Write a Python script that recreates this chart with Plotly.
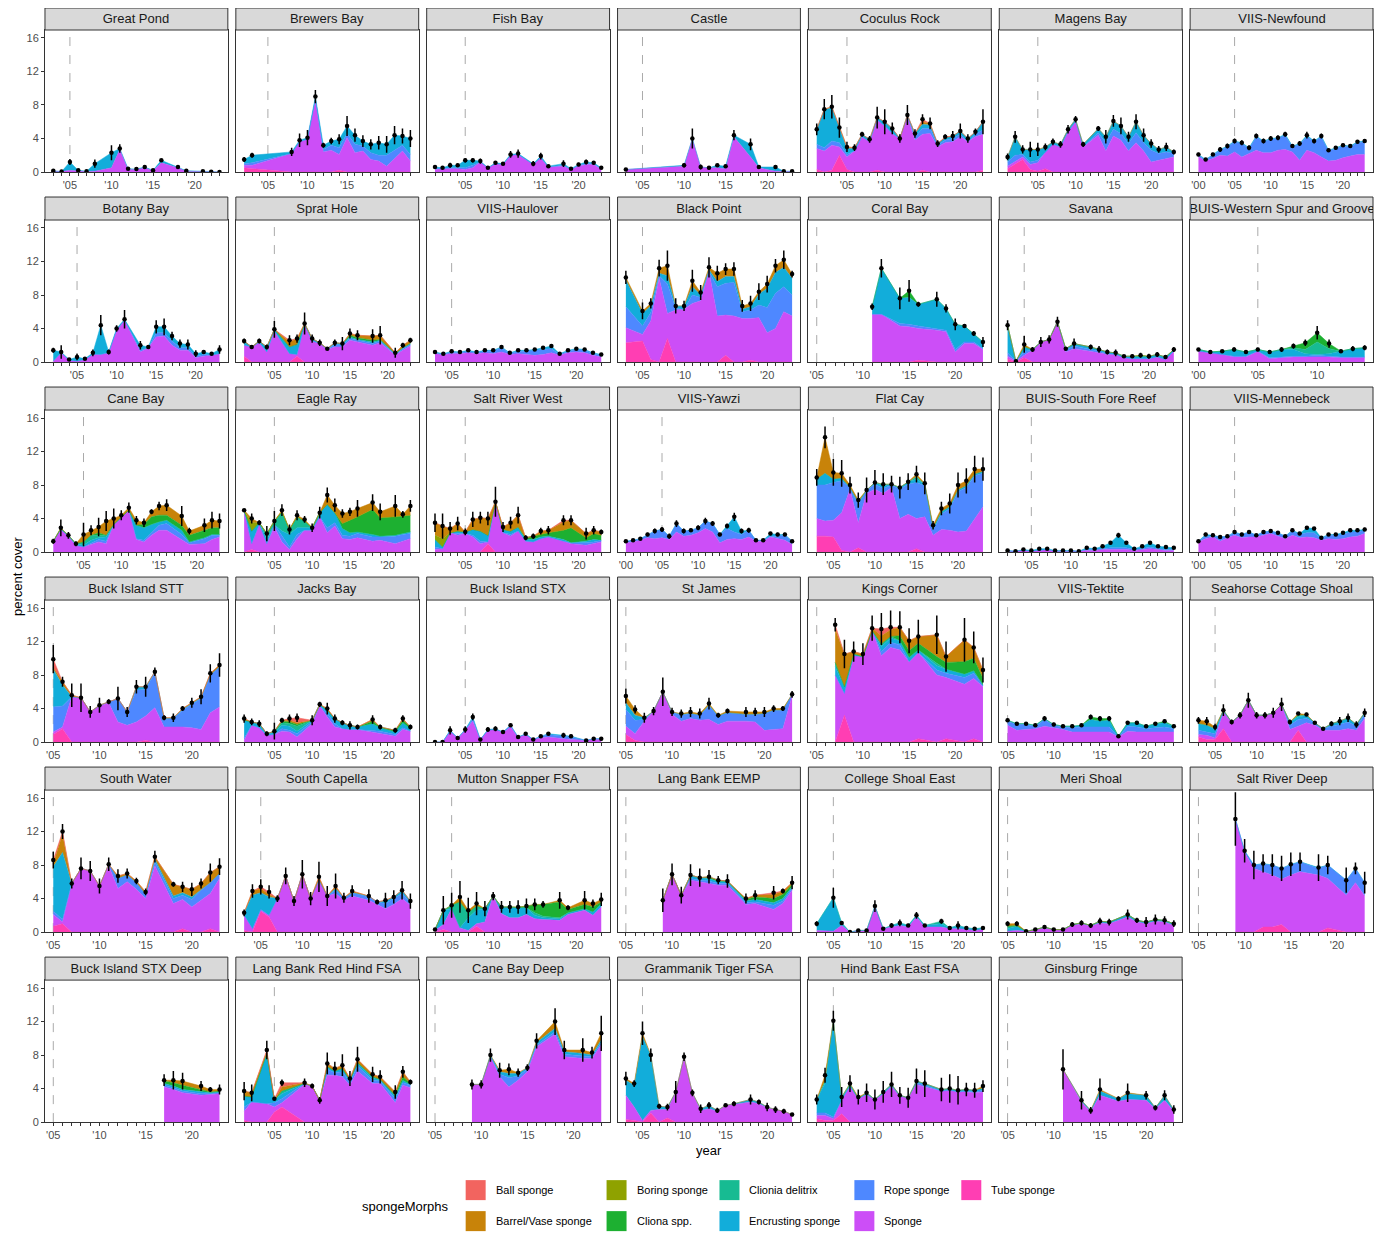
import plotly.graph_objects as go

# page body keeps the browser's 8px margin, so the figure is laid out in page pixels minus that
OFF = 8
W, H = 1382 - 2 * OFF, 1247 - 2 * OFF
KY = 1.005  # small vertical stretch so the lower rows land where the reference has them
FONT = "Liberation Sans, Arial, sans-serif"


def fx(px):
    return (px - OFF) / W


def fy(py):
    return 1 - (py - OFF) * KY / H


# morph colours (ggplot-ish hue palette as it looks in the picture)
colors = {"Ball sponge": "#F2645F", "Barrel/Vase sponge": "#C88309", "Boring sponge": "#8FA200",
          "Cliona spp.": "#1DB031", "Clionia delitrix": "#17BB92", "Encrusting sponge": "#12ADDA",
          "Rope sponge": "#4E88FF", "Sponge": "#CC4EF7", "Tube sponge": "#FF3EB3"}
# short keys, bottom of the stack first
stack = [("tb", "Tube sponge"), ("sp", "Sponge"), ("rp", "Rope sponge"), ("en", "Encrusting sponge"),
         ("dl", "Clionia delitrix"), ("cl", "Cliona spp."), ("bo", "Boring sponge"),
         ("bv", "Barrel/Vase sponge"), ("ba", "Ball sponge")]

# ---------------- data (percent cover by year) ----------------
# Great Pond
gp_yr = [2003, 2004, 2005, 2006, 2007, 2008, 2010, 2011, 2012, 2013, 2014, 2015, 2016, 2018, 2019, 2021, 2022, 2023]
gp_sp = [0.1, 0.05, 0.2, 0.15, 0.05, 0.1, 0.5, 2.7, 0.3, 0.3, 0.5, 0.15, 1.1, 0.5, 0.1, 0.05, 0.03, 0.0]
gp_en = [0.05, 0.0, 1.0, 0.05, 0.05, 0.9, 1.8, 0.1, 0.1, 0.05, 0.1, 0.05, 0.3, 0.1, 0.05, 0.05, 0.0, 0.0]
gp_se = [0.1, 0.05, 0.35, 0.15, 0.1, 0.5, 0.9, 0.5, 0.1, 0.15, 0.1, 0.1, 0.15, 0.15, 0.1, 0.1, 0.05, 0.03]
# Brewers Bay
bb_yr = [2002, 2003, 2008, 2009, 2010, 2011, 2012, 2013, 2014, 2015, 2016, 2017, 2018, 2019, 2020, 2021, 2022, 2023]
bb_tb = [0.5, 0.4, 0, 0, 0, 0, 0, 0, 0.2, 0, 0, 0, 0, 0, 0, 0, 0, 0]
bb_sp = [0.3, 0.4, 2.2, 3.6, 3.9, 8.6, 2.4, 2.6, 1.9, 4.1, 2.3, 2.5, 1.5, 1.3, 0.7, 1.6, 2.5, 1.3]
bb_rp = [0.2, 0.3, 0, 0, 0, 0, 0.3, 0.6, 0.8, 0.5, 1.0, 0.6, 0.8, 0.7, 1.3, 1.0, 0.7, 0.8]
bb_en = [0.5, 0.9, 0.2, 0.2, 0.2, 0.4, 0.5, 0.5, 1.0, 0.9, 1.1, 0.6, 1.0, 1.5, 1.3, 1.8, 1.1, 1.9]
bb_se = [0.3, 0.3, 0.5, 0.8, 0.9, 0.8, 0.3, 0.4, 0.6, 1.2, 0.8, 0.7, 0.6, 0.8, 1.0, 1.1, 0.9, 1.0]
# Fish Bay
fb_yr = [2001, 2002, 2003, 2004, 2005, 2006, 2007, 2008, 2009, 2010, 2011, 2012, 2014, 2015, 2016, 2018, 2019, 2020, 2021, 2022, 2023]
fb_sp = [0.3, 0.4, 0.4, 0.4, 0.3, 0.5, 1.2, 0.5, 1.0, 0.9, 2.0, 2.1, 0.9, 1.7, 0.6, 0.7, 0.3, 0.7, 0.9, 0.9, 0.3]
fb_rp = [0.1, 0, 0.1, 0.1, 0.2, 0.3, 0, 0, 0, 0, 0, 0, 0, 0, 0, 0.1, 0, 0.1, 0.1, 0.1, 0.1]
fb_en = [0.2, 0.1, 0.3, 0.3, 0.9, 0.6, 0.1, 0, 0.1, 0.1, 0.1, 0.1, 0.1, 0.2, 0.1, 0.2, 0.1, 0.1, 0.2, 0.1, 0.1]
fb_se = [0.15, 0.15, 0.3, 0.2, 0.25, 0.25, 0.3, 0.1, 0.2, 0.2, 0.4, 0.5, 0.3, 0.4, 0.1, 0.4, 0.1, 0.2, 0.3, 0.2, 0.15]
# Castle
ca_yr = [2003, 2010, 2011, 2012, 2013, 2014, 2015, 2016, 2018, 2019, 2021, 2022, 2023]
ca_sp = [0.3, 0.7, 3.9, 0.6, 0.5, 0.5, 0.4, 4.2, 1.8, 0.5, 0.1, 0.05, 0.05]
ca_en = [0, 0.1, 0.1, 0, 0, 0.3, 0.3, 0.2, 1.5, 0.1, 0.5, 0.05, 0.05]
ca_se = [0.05, 0.25, 1.2, 0.3, 0.2, 0.15, 0.1, 0.6, 0.7, 0.1, 0.15, 0.05, 0.05]
# Coculus Rock
cr_yr = [2001, 2002, 2003, 2004, 2005, 2006, 2007, 2008, 2009, 2010, 2011, 2012, 2013, 2014, 2015, 2016, 2017, 2018, 2019, 2020, 2021, 2022, 2023]
cr_tb = [0.3, 0, 0.2, 2.0, 0.3, 0, 0, 0, 0.2, 0, 0, 0, 0, 0, 0.2, 0, 0, 0, 0, 0, 0, 0, 0.2]
cr_sp = [2.5, 2.5, 3.0, 1.0, 1.5, 2.5, 4.2, 3.6, 6.0, 5.5, 4.6, 4.0, 6.6, 3.8, 4.3, 4.6, 3.0, 3.5, 3.6, 4.2, 3.6, 4.2, 4.3]
cr_rp = [0.5, 0.4, 0.5, 0.5, 0.3, 0, 0, 0, 0, 0, 0, 0, 0, 0.4, 0.7, 0.6, 0.2, 0.3, 0.4, 0.3, 0, 0.3, 0.5]
cr_en = [1.8, 4.5, 4.0, 1.8, 0.7, 0.3, 0.3, 0.3, 0.3, 0.5, 0.6, 0, 0.2, 0.4, 0.5, 0.4, 0.2, 0.3, 0.3, 0.4, 0.4, 0.3, 1.0]
cr_bv = [0, 0.1, 0.1, 0, 0.2, 0.1, 0, 0, 0, 0, 0, 0, 0, 0, 0.3, 0.2, 0, 0, 0, 0, 0, 0, 0]
cr_ba = [0, 0, 0, 0, 0, 0, 0, 0, 0, 0, 0, 0, 0, 0, 0.3, 0, 0, 0.1, 0, 0, 0, 0, 0]
cr_se = [0.7, 1.2, 1.4, 1.2, 0.6, 0.4, 0.3, 0.4, 1.3, 1.5, 0.7, 0.5, 1.2, 0.5, 0.6, 0.7, 0.4, 0.3, 0.6, 0.9, 0.5, 0.4, 1.5]
# Magens Bay
mb_yr = [2001, 2002, 2003, 2004, 2005, 2006, 2007, 2008, 2009, 2010, 2011, 2013, 2014, 2015, 2016, 2017, 2018, 2019, 2020, 2021, 2022, 2023]
mb_tb = [0.4, 0.9, 1.5, 0.3, 0.1, 0.4, 0, 0, 0, 0, 0, 0, 0, 0, 0, 0, 0, 0, 0, 0, 0, 0]
mb_sp = [0.3, 0.3, 0.3, 0.6, 1.0, 2.0, 3.3, 3.0, 4.8, 6.0, 3.0, 4.4, 2.5, 4.3, 3.8, 2.5, 3.5, 2.5, 1.2, 1.4, 1.6, 1.8]
mb_rp = [0.5, 0.8, 0.3, 0.3, 0.3, 0, 0, 0, 0, 0, 0, 0.3, 1.0, 0.8, 0.8, 0.9, 1.2, 1.0, 1.4, 0.8, 0.8, 0.4]
mb_en = [0.6, 2.2, 0.6, 1.5, 1.2, 0.6, 0.3, 0.3, 0.3, 0.3, 0.3, 0.5, 0.7, 1.0, 0.9, 0.8, 1.3, 0.9, 0.8, 0.5, 0.6, 0.2]
mb_bv = [0, 0, 0, 0, 0.1, 0, 0, 0, 0, 0, 0, 0, 0, 0, 0, 0, 0, 0, 0, 0, 0, 0]
mb_se = [0.4, 0.7, 0.5, 0.9, 0.8, 0.4, 0.4, 0.4, 0.5, 0.4, 0.3, 0.3, 0.8, 0.7, 1.0, 0.6, 0.9, 0.8, 0.5, 0.4, 0.5, 0.3]
# VIIS-Newfound
vn_yr = [2000, 2001, 2002, 2003, 2004, 2005, 2006, 2007, 2008, 2009, 2010, 2011, 2012, 2013, 2014, 2015, 2016, 2017, 2018, 2019, 2020, 2021, 2022, 2023]
vn_sp = [1.8, 1.3, 1.6, 2.0, 1.9, 2.4, 1.8, 2.2, 2.6, 2.3, 2.3, 2.6, 2.7, 2.4, 1.4, 2.6, 2.3, 1.8, 1.3, 1.4, 1.7, 1.9, 2.1, 2.1]
vn_rp = [0.2, 0.1, 0.4, 0.6, 1.1, 1.2, 1.6, 0.6, 1.6, 1.3, 1.6, 1.4, 1.7, 0.6, 1.9, 1.6, 1.3, 2.4, 1.2, 1.4, 1.4, 1.1, 1.4, 1.5]
vn_en = [0.1, 0.1, 0.1, 0.1, 0.1, 0.1, 0.1, 0.1, 0.1, 0.1, 0.1, 0.1, 0.1, 0.1, 0.1, 0.2, 0.1, 0.1, 0.1, 0.1, 0.1, 0.1, 0.1, 0.1]
vn_se = [0.2, 0.15, 0.2, 0.3, 0.3, 0.3, 0.3, 0.3, 0.3, 0.3, 0.3, 0.3, 0.3, 0.2, 0.3, 0.4, 0.3, 0.3, 0.2, 0.2, 0.2, 0.2, 0.2, 0.2]
# Botany Bay
bt_yr = [2002, 2003, 2004, 2005, 2006, 2007, 2008, 2009, 2010, 2011, 2013, 2014, 2015, 2016, 2017, 2018, 2019, 2020, 2021, 2022, 2023]
bt_sp = [0.1, 1.1, 0.2, 0.1, 0.3, 0.9, 0.9, 1.1, 3.8, 5.0, 1.2, 1.7, 3.0, 3.1, 2.0, 1.4, 1.4, 0.5, 0.7, 0.8, 1.0]
bt_rp = [0, 0, 0, 0, 0, 0, 0, 0, 0, 0, 0.2, 0, 0.5, 0.4, 0.5, 0.3, 0.3, 0.2, 0.2, 0, 0]
bt_en = [1.3, 0.1, 0.1, 0.5, 0.1, 0.2, 3.5, 0.1, 0.2, 0.1, 0.6, 0.1, 0.7, 0.7, 0.6, 0.5, 0.4, 0.3, 0.3, 0.2, 0.5]
bt_se = [0.3, 0.8, 0.1, 0.4, 0.1, 0.4, 1.2, 0.3, 0.4, 1.1, 0.5, 0.1, 0.8, 1.0, 0.5, 0.5, 0.6, 0.4, 0.2, 0.1, 0.5]
# Sprat Hole
sh_yr = [2001, 2002, 2003, 2004, 2005, 2007, 2008, 2009, 2010, 2011, 2012, 2013, 2014, 2015, 2016, 2018, 2019, 2021, 2022, 2023]
sh_tb = [0.7, 0, 0, 0, 0, 0, 0.7, 0, 0, 0, 0, 0, 0, 0, 0, 0, 0, 0, 0, 0]
sh_sp = [1.3, 1.8, 2.3, 1.2, 3.6, 1.0, 0.2, 4.4, 2.5, 2.2, 1.5, 1.8, 1.8, 2.6, 2.4, 2.0, 2.3, 0.8, 1.4, 1.9]
sh_rp = [0, 0, 0, 0, 0.1, 0, 0, 0, 0, 0, 0, 0.3, 0.2, 0.2, 0.2, 0.2, 0.2, 0.1, 0.2, 0.2]
sh_en = [0.5, 0, 0.2, 0.6, 0.2, 0.8, 1.2, 0.2, 0.3, 0.1, 0.1, 0.2, 0.2, 0.2, 0.1, 0.2, 0.1, 0.1, 0.1, 0.1]
sh_cl = [0, 0, 0, 0, 0, 0, 0, 0, 0, 0, 0, 0, 0, 0.2, 0.2, 0.2, 0.1, 0, 0, 0]
sh_bv = [0, 0, 0, 0, 0, 0.6, 0.7, 0, 0, 0, 0, 0, 0, 0.2, 0.3, 0.5, 0.5, 0.1, 0.3, 0.4]
sh_ba = [0, 0, 0, 0, 0, 0.2, 0, 0, 0, 0, 0, 0, 0, 0, 0, 0, 0, 0, 0, 0]
sh_se = [0.3, 0.1, 0.3, 0.3, 1.0, 0.6, 0.5, 1.3, 0.5, 0.4, 0.1, 0.4, 0.8, 0.6, 0.6, 0.8, 1.1, 0.6, 0.3, 0.3]
# VIIS-Haulover
vh_yr = [2003, 2004, 2005, 2006, 2007, 2008, 2009, 2010, 2011, 2012, 2013, 2014, 2015, 2016, 2017, 2018, 2019, 2020, 2021, 2022, 2023]
vh_sp = [1.0, 0.9, 1.0, 1.0, 1.1, 1.0, 1.1, 1.0, 1.2, 0.9, 1.0, 0.9, 0.8, 0.9, 1.1, 0.8, 1.1, 1.2, 1.1, 0.8, 0.6]
vh_rp = [0.1, 0.0, 0.2, 0.1, 0.2, 0.1, 0.2, 0.3, 0.5, 0.1, 0.3, 0.4, 0.6, 0.6, 0.5, 0.1, 0.2, 0.3, 0.3, 0.2, 0.2]
vh_en = [0.1, 0.1, 0.1, 0.1, 0.1, 0.1, 0.1, 0.1, 0.1, 0.1, 0.1, 0.1, 0.1, 0.2, 0.3, 0.1, 0.1, 0.1, 0.1, 0.1, 0.1]
vh_se = [0.15, 0.1, 0.2, 0.15, 0.2, 0.1, 0.2, 0.2, 0.2, 0.1, 0.1, 0.15, 0.15, 0.15, 0.2, 0.1, 0.15, 0.15, 0.15, 0.1, 0.1]
# Black Point
bp_yr = [2003, 2005, 2006, 2007, 2008, 2009, 2010, 2011, 2012, 2013, 2014, 2015, 2016, 2017, 2018, 2019, 2020, 2021, 2022, 2023]
bp_tb = [2.3, 2.5, 0.3, 0, 2.8, 0, 0, 0, 0, 0, 0, 0.8, 0, 0, 0.2, 0, 0, 0, 0, 0]
bp_sp = [1.8, 0.8, 4.6, 10.0, 3.0, 6.2, 6.3, 7.0, 7.3, 10.8, 5.5, 4.8, 5.5, 5.2, 5.0, 5.3, 3.5, 4.0, 6.0, 5.5]
bp_rp = [2.5, 1.0, 1.0, 0.3, 3.5, 0.2, 0, 1.0, 0.4, 0, 3.5, 3.8, 4.0, 0.8, 1.0, 1.5, 3.0, 4.2, 3.0, 2.5]
bp_en = [3.2, 1.5, 0.8, 0.3, 1.0, 0.3, 0.4, 1.0, 0.3, 0.2, 0.6, 0.8, 0.7, 0.3, 0.4, 1.3, 2.3, 2.5, 2.3, 2.0]
bp_bv = [0.3, 0.3, 0.3, 0.6, 1.2, 0, 0, 0.7, 0.3, 0.3, 1.0, 0.9, 0.9, 0.4, 0.4, 0.3, 0.5, 0.8, 0.9, 0.5]
bp_se = [0.8, 1.0, 0.6, 1.0, 1.8, 0.9, 0.6, 1.3, 0.9, 1.2, 0.9, 0.7, 0.8, 0.7, 0.9, 1.0, 1.0, 0.8, 1.1, 0.4]
# Coral Bay
cy_yr = [2011, 2012, 2014, 2015, 2016, 2018, 2019, 2020, 2021, 2022, 2023]
cy_tb = [0, 0, 0, 0, 0.2, 0, 0, 0, 0, 0, 0]
cy_sp = [5.7, 5.7, 4.3, 4.2, 3.8, 3.8, 3.6, 1.2, 2.2, 2.2, 1.5]
cy_rp = [0, 0, 0.3, 0.3, 0.3, 0.2, 0.2, 0.3, 0.2, 0.2, 0.1]
cy_en = [0.9, 5.5, 3.0, 3.2, 2.6, 3.5, 2.6, 3.0, 1.9, 1.0, 0.8]
cy_cl = [0, 0, 0, 0.8, 0, 0, 0, 0, 0, 0, 0]
cy_se = [0.4, 1.1, 1.3, 1.3, 0.3, 0.9, 0.5, 0.7, 0.2, 0.3, 0.6]
# Savana
sv_yr = [2003, 2004, 2005, 2006, 2007, 2008, 2009, 2010, 2011, 2013, 2014, 2015, 2016, 2017, 2018, 2019, 2020, 2021, 2022, 2023]
sv_tb = [0.4, 0, 0.5, 0, 0, 0, 0, 0, 0, 0, 0, 0, 0, 0, 0, 0, 0, 0, 0, 0]
sv_sp = [0.3, 0.1, 0.3, 1.4, 2.4, 2.7, 4.8, 1.2, 1.6, 1.3, 1.1, 0.9, 0.9, 0.5, 0.4, 0.4, 0.4, 0.6, 0.3, 1.3]
sv_rp = [0.4, 0, 0.5, 0, 0, 0, 0, 0.2, 0.3, 0.2, 0.2, 0.1, 0, 0, 0, 0, 0, 0, 0, 0]
sv_en = [3.3, 0, 0.5, 0.1, 0, 0, 0, 0.2, 0.3, 0.3, 0.2, 0.2, 0.2, 0.2, 0.3, 0.2, 0.3, 0.3, 0.3, 0.2]
sv_cl = [0, 0, 0, 0, 0, 0, 0, 0, 0, 0, 0, 0, 0, 0, 0, 0.2, 0, 0, 0, 0]
sv_bv = [0, 0, 0.3, 0, 0, 0, 0, 0, 0, 0, 0, 0, 0, 0, 0, 0, 0, 0, 0, 0]
sv_se = [0.6, 0.05, 1.0, 0.3, 0.6, 0.5, 0.6, 0.2, 0.6, 0.3, 0.4, 0.3, 0.4, 0.1, 0.2, 0.3, 0.3, 0.3, 0.2, 0.3]
# BUIS-Western Spur and Groove
ws_yr = [2000, 2001, 2002, 2003, 2004, 2005, 2006, 2007, 2008, 2009, 2010, 2011, 2012, 2013, 2014]
ws_sp = [1.3, 1.1, 0.9, 0.6, 0.6, 1.3, 0.4, 0.5, 0.6, 0.6, 0.6, 0.6, 0.5, 0.5, 0.5]
ws_rp = [0, 0, 0, 0.1, 0.1, 0, 0.1, 0.1, 0.1, 0.1, 0.2, 0.1, 0.1, 0.1, 0.1]
ws_en = [0.2, 0.1, 0.4, 0.8, 0.5, 0.2, 0.7, 0.9, 0.8, 0.3, 0.1, 0.3, 0.7, 1.0, 1.1]
ws_dl = [0, 0, 0, 0, 0, 0, 0, 0, 0.2, 0.5, 1.5, 0.6, 0, 0, 0]
ws_cl = [0, 0, 0, 0, 0, 0, 0, 0, 0.2, 0.8, 1.1, 0.6, 0, 0, 0]
ws_se = [0.15, 0.2, 0.15, 0.25, 0.2, 0.2, 0.2, 0.3, 0.3, 0.4, 0.8, 0.5, 0.2, 0.3, 0.3]
# Cane Bay
cn_yr = [2001, 2002, 2003, 2004, 2005, 2006, 2007, 2008, 2009, 2010, 2011, 2012, 2013, 2014, 2015, 2016, 2018, 2019, 2021, 2022, 2023]
cn_sp = [1.3, 2.7, 1.9, 0.8, 0.6, 0.9, 1.2, 1.0, 3.3, 4.1, 5.0, 1.5, 1.2, 2.0, 2.6, 2.6, 1.5, 0.9, 1.0, 1.5, 1.8]
cn_rp = [0, 0, 0, 0, 0, 0.2, 0.3, 0.3, 0, 0, 0, 0.1, 0.2, 0.3, 0.6, 0.8, 0.6, 0.2, 0.6, 0.5, 0.2]
cn_en = [0, 0.1, 0.1, 0.2, 0.2, 0.3, 0.2, 0.5, 0, 0, 0, 1.6, 1.5, 1.0, 0.4, 0.4, 0.5, 0.1, 0.1, 0.1, 0.1]
cn_dl = [0, 0, 0, 0, 0.4, 0.6, 0.3, 0.2, 0, 0, 0, 0, 0, 0, 0, 0, 0, 0, 0, 0, 0]
cn_cl = [0, 0, 0, 0, 0, 0, 0.3, 0, 0, 0, 0, 0, 0.4, 0.9, 0.8, 0.6, 0.6, 0.8, 0.9, 0.8, 0.8]
cn_bv = [0, 0.1, 0, 0, 0.9, 0.6, 0.7, 1.7, 0.7, 0.3, 0.3, 0.6, 0.2, 0.6, 1.1, 1.2, 1.1, 0.5, 0.6, 0.9, 0.8]
cn_se = [0.3, 1.0, 0.4, 0.3, 1.4, 0.6, 1.1, 1.2, 1.2, 0.6, 0.6, 0.5, 0.5, 0.3, 0.5, 0.7, 1.2, 0.4, 0.8, 1.0, 0.9]
# Eagle Ray
er_yr = [2001, 2002, 2003, 2004, 2005, 2006, 2007, 2008, 2009, 2010, 2011, 2012, 2013, 2014, 2015, 2016, 2018, 2019, 2021, 2022, 2023]
er_tb = [0, 0.3, 0, 0, 0, 0, 0, 0, 0, 0, 0, 0, 0, 0, 0, 0, 0, 0, 0, 0, 0]
er_sp = [4.9, 0.7, 3.3, 1.0, 3.0, 1.2, 0.3, 1.6, 2.6, 2.6, 4.2, 2.3, 3.1, 1.6, 1.5, 1.7, 1.3, 1.4, 1.0, 1.3, 1.6]
er_rp = [0, 0, 0, 0, 0.3, 0.8, 0.3, 0.5, 0, 0, 0, 0.6, 0.4, 0.4, 0.4, 0.5, 0.5, 0.4, 0.9, 0.8, 0.6]
er_en = [0, 1.5, 0.2, 0.5, 0, 0.5, 1.5, 0.8, 0.3, 0.3, 0.5, 2.8, 1.2, 0.8, 0.4, 0.2, 0.3, 0.1, 0.1, 0.1, 0.2]
er_dl = [0, 0, 0, 0.7, 0.4, 2.3, 0.6, 1.3, 0.8, 0, 0, 0, 0, 0, 0, 0, 0, 0, 0, 0, 0]
er_cl = [0, 0, 0, 0, 0, 0, 0, 0, 0, 0, 0, 0, 0, 0.6, 1.5, 1.8, 3.0, 2.2, 2.2, 2.1, 2.0]
er_bo = [0, 1.0, 0, 0, 0, 0, 0, 0, 0, 0, 0, 0, 0, 0, 0, 0, 0, 0, 0, 0, 0]
er_bv = [0.1, 0.5, 0, 0, 0, 0.2, 0, 0.2, 0.2, 0, 0, 1.1, 0.9, 1.2, 1.0, 1.0, 0.8, 0.7, 1.3, 0.2, 1.1]
er_se = [0.1, 0.6, 0.3, 0.9, 1.2, 0.7, 0.6, 0.6, 0.4, 0.5, 0.7, 0.9, 0.8, 0.5, 0.5, 1.0, 1.0, 1.0, 1.3, 0.4, 0.7]
# Salt River West
sw_yr = [2001, 2002, 2003, 2004, 2005, 2006, 2007, 2008, 2009, 2010, 2011, 2012, 2013, 2014, 2015, 2016, 2018, 2019, 2021, 2022, 2023]
sw_tb = [0, 0, 0, 0, 0, 0, 0, 1.0, 0, 0, 0, 0, 0, 0, 0, 0, 0, 0, 0, 0, 0]
sw_sp = [0.3, 0.4, 2.3, 2.0, 2.2, 1.8, 1.0, 0.2, 6.0, 2.3, 1.9, 2.5, 1.3, 1.2, 1.6, 1.8, 1.3, 1.0, 0.8, 1.0, 1.2]
sw_rp = [0.3, 0, 0, 0.2, 0, 0.2, 0.3, 0, 0, 0, 0.2, 0, 0, 0, 0, 0, 0, 0.1, 0.3, 0.2, 0.2]
sw_en = [0.9, 0.2, 0, 0.3, 0.2, 0.7, 1.2, 0.8, 0, 0.4, 0.4, 0.5, 0.2, 0.3, 0.2, 0.1, 0.2, 0, 0.2, 0.3, 0]
sw_cl = [0, 0, 0, 0, 0, 0, 0, 0, 0, 0, 0, 0, 0.2, 0.4, 0.3, 0.4, 1.1, 1.8, 0.4, 0.7, 0.6]
sw_bo = [0.5, 1.0, 0, 0, 0, 0, 0, 0, 0, 0, 0, 0, 0, 0, 0, 0, 0, 0, 0, 0, 0]
sw_bv = [1.5, 1.5, 0.5, 0.9, 0, 1.2, 1.6, 2.0, 0, 0.3, 1.0, 1.4, 0, 0, 0.4, 0.3, 1.0, 0.9, 0.5, 0.4, 0.4]
sw_ba = [0, 0, 0, 0, 0, 0, 0, 0, 0, 0, 0, 0, 0, 0, 0, 0, 0.2, 0, 0, 0, 0]
sw_se = [1.1, 1.5, 0.8, 0.8, 0.4, 0.9, 0.7, 0.8, 1.8, 0.6, 0.7, 1.0, 0.3, 0.3, 0.4, 0.5, 0.6, 0.6, 0.7, 0.5, 0.3]
# VIIS-Yawzi
vy_yr = [2000, 2001, 2002, 2003, 2004, 2005, 2006, 2007, 2008, 2009, 2010, 2011, 2012, 2013, 2014, 2015, 2016, 2017, 2018, 2019, 2020, 2021, 2022, 2023]
vy_sp = [1.1, 1.2, 1.4, 1.7, 1.6, 1.7, 1.5, 2.4, 1.9, 2.0, 2.3, 2.8, 2.4, 1.1, 1.5, 1.6, 1.5, 1.8, 1.3, 1.3, 1.8, 1.6, 1.4, 0.9]
vy_rp = [0.2, 0.2, 0.2, 0.4, 0.9, 1.0, 0.4, 1.0, 0.6, 0.6, 0.6, 0.9, 1.0, 1.0, 1.3, 0.8, 0.6, 0.8, 0.1, 0.1, 0.1, 0.3, 0.6, 0.4]
vy_en = [0, 0, 0, 0, 0, 0, 0, 0, 0, 0, 0, 0, 0, 0, 0.3, 1.8, 0.4, 0, 0, 0, 0.3, 0.2, 0.1, 0]
vy_se = [0.1, 0.1, 0.15, 0.2, 0.3, 0.3, 0.3, 0.4, 0.3, 0.2, 0.3, 0.4, 0.3, 0.2, 0.3, 0.5, 0.3, 0.3, 0.15, 0.1, 0.2, 0.2, 0.2, 0.15]
# Flat Cay
fc_yr = [2003, 2004, 2005, 2006, 2007, 2008, 2009, 2010, 2011, 2012, 2013, 2014, 2015, 2016, 2017, 2018, 2019, 2020, 2021, 2022, 2023]
fc_tb = [1.9, 1.9, 1.8, 0.2, 0, 0.5, 0, 0, 0, 0, 0, 0, 0.4, 0, 0, 0, 0, 0, 0, 0, 0]
fc_sp = [2.1, 1.8, 2.0, 4.5, 7.5, 3.0, 7.0, 7.5, 7.0, 7.7, 4.0, 4.5, 3.6, 4.2, 2.0, 2.7, 2.6, 2.4, 2.5, 3.9, 5.4]
fc_rp = [4.0, 4.3, 4.5, 3.8, 0.2, 2.2, 0.4, 0.6, 0.6, 0.3, 3.5, 3.6, 4.3, 3.7, 0.6, 1.8, 2.6, 4.8, 5.2, 5.2, 4.0]
fc_en = [0.7, 1.4, 0.4, 0.3, 0, 0.2, 0, 0.2, 0.3, 0.1, 0.2, 0.3, 0.4, 0.2, 0.2, 0.3, 0.2, 0.2, 0.2, 0.2, 0.2]
fc_dl = [0, 0, 0, 0, 0, 0, 0, 0, 0.2, 0, 0, 0, 0.3, 0, 0, 0, 0, 0, 0, 0, 0]
fc_bv = [0.2, 4.3, 0.8, 0.6, 0.3, 0.3, 0, 0, 0, 0, 0, 0, 0.3, 0.1, 0.4, 0.4, 0.4, 0.6, 0.6, 0.6, 0.3]
fc_se = [1.0, 1.3, 1.6, 1.6, 1.0, 0.9, 1.5, 1.5, 1.3, 1.0, 1.3, 1.0, 1.0, 1.3, 0.5, 0.8, 1.2, 1.5, 1.5, 1.6, 1.4]
# BUIS-South Fore Reef
sf_yr = [2002, 2003, 2004, 2005, 2006, 2007, 2008, 2009, 2010, 2011, 2012, 2013, 2014, 2015, 2016, 2017, 2018, 2019, 2020, 2021, 2022, 2023]
sf_sp = [0.1, 0.1, 0.2, 0.1, 0.2, 0.3, 0.1, 0.1, 0.1, 0.1, 0.2, 0.2, 0.3, 0.3, 0.3, 0.3, 0.2, 0.3, 0.4, 0.3, 0.2, 0.2]
sf_rp = [0, 0, 0, 0, 0, 0, 0, 0, 0, 0, 0.1, 0.1, 0.1, 0.2, 0.2, 0.2, 0.1, 0.1, 0.2, 0.1, 0.1, 0.1]
sf_en = [0.1, 0, 0.1, 0.1, 0.2, 0.1, 0.1, 0.1, 0.1, 0, 0.2, 0.1, 0.3, 0.6, 1.5, 0.6, 0.1, 0.3, 0.5, 0.3, 0.3, 0.2]
sf_se = [0.05, 0.05, 0.1, 0.05, 0.1, 0.1, 0.05, 0.05, 0.05, 0.05, 0.1, 0.1, 0.1, 0.2, 0.3, 0.15, 0.05, 0.1, 0.2, 0.1, 0.1, 0.1]
# VIIS-Mennebeck
vm_yr = [2000, 2001, 2002, 2003, 2004, 2005, 2006, 2007, 2008, 2009, 2010, 2011, 2012, 2013, 2014, 2015, 2016, 2017, 2018, 2019, 2020, 2021, 2022, 2023]
vm_sp = [1.2, 1.6, 1.8, 1.3, 1.7, 2.0, 1.7, 1.8, 1.8, 2.0, 2.2, 1.9, 1.6, 2.0, 1.7, 1.8, 1.7, 1.4, 1.6, 1.5, 1.6, 1.8, 1.9, 2.2]
vm_rp = [0.1, 0.3, 0.1, 0.5, 0.2, 0.3, 0.4, 0.6, 0.2, 0.4, 0.3, 0.4, 0.3, 0.5, 0.4, 0.5, 0.6, 0.2, 0.4, 0.5, 0.5, 0.6, 0.5, 0.4]
vm_en = [0, 0.2, 0.1, 0, 0, 0.1, 0, 0, 0, 0, 0, 0, 0, 0.1, 0.1, 0.6, 0.5, 0.1, 0.1, 0.1, 0.2, 0.2, 0.2, 0.1]
vm_se = [0.15, 0.2, 0.2, 0.2, 0.2, 0.2, 0.2, 0.2, 0.15, 0.15, 0.2, 0.2, 0.15, 0.2, 0.2, 0.2, 0.2, 0.2, 0.15, 0.15, 0.2, 0.2, 0.2, 0.2]
# Buck Island STT
bs_yr = [2005, 2006, 2007, 2008, 2009, 2010, 2011, 2012, 2013, 2014, 2015, 2016, 2017, 2018, 2019, 2020, 2021, 2022, 2023]
bs_tb = [0.9, 1.6, 0, 0, 0, 0, 0, 0, 0, 0, 0.2, 0, 0, 0, 0, 0, 0, 0, 0]
bs_sp = [0.3, 0.2, 5.4, 5.3, 3.6, 4.3, 4.7, 2.4, 2.0, 2.4, 2.9, 4.1, 1.8, 1.8, 1.8, 1.7, 1.5, 3.5, 4.2]
bs_rp = [3.0, 2.5, 0, 0, 0, 0, 0.1, 2.8, 1.6, 3.8, 3.2, 4.2, 0.9, 1.0, 2.0, 2.8, 3.7, 4.5, 4.8]
bs_en = [4.5, 2.5, 0, 0, 0, 0.1, 0, 0, 0, 0.4, 0.3, 0.1, 0.1, 0.1, 0.1, 0.1, 0.1, 0, 0]
bs_bv = [0.2, 0.4, 0.2, 0, 0, 0, 0, 0, 0, 0, 0, 0, 0.1, 0, 0.1, 0.1, 0.1, 0.2, 0.2]
bs_ba = [1.0, 0, 0, 0, 0, 0, 0, 0, 0, 0, 0, 0, 0, 0, 0, 0, 0, 0, 0]
bs_se = [1.7, 0.6, 1.4, 1.7, 0.7, 0.9, 0.3, 1.4, 0.6, 0.8, 1.2, 0.5, 0.3, 0.5, 0.3, 0.6, 0.9, 1.1, 1.4]
# Jacks Bay
jb_yr = [2001, 2002, 2003, 2004, 2005, 2006, 2007, 2008, 2010, 2011, 2012, 2013, 2014, 2015, 2016, 2018, 2019, 2021, 2022, 2023]
jb_sp = [0.2, 2.0, 1.7, 0.8, 0.9, 1.3, 1.2, 0.6, 2.2, 4.3, 3.0, 1.8, 1.6, 1.5, 1.5, 1.2, 1.0, 0.7, 1.5, 1.3]
jb_rp = [0.3, 0, 0, 0, 0, 0.3, 0.2, 0.4, 0.2, 0, 0.4, 0.4, 0, 0, 0, 0.2, 0.3, 0.2, 0.2, 0]
jb_en = [2.1, 0.4, 0.5, 0.2, 0.2, 0.4, 0.5, 0.3, 0.2, 0.2, 0.4, 0.6, 0.7, 0.5, 0.3, 0.8, 0.4, 0.3, 0.6, 0.3]
jb_dl = [0, 0, 0, 0, 0.2, 0.3, 0.3, 0.6, 0, 0, 0, 0, 0, 0, 0, 0, 0, 0, 0, 0]
jb_cl = [0, 0, 0, 0, 0, 0.2, 0.2, 0.2, 0, 0, 0, 0, 0, 0, 0, 0.3, 0.1, 0.2, 0.3, 0.2]
jb_bv = [0.2, 0, 0, 0, 0, 0.1, 0.2, 0.2, 0, 0, 0.2, 0, 0, 0, 0, 0.2, 0, 0, 0.2, 0]
jb_ba = [0, 0, 0, 0, 0, 0, 0.2, 0.6, 0, 0, 0, 0, 0, 0, 0, 0, 0, 0, 0, 0]
jb_se = [0.5, 0.4, 0.4, 0.3, 1.0, 0.3, 0.5, 0.5, 0.6, 0.3, 0.7, 0.5, 0.3, 0.5, 0.3, 0.5, 0.3, 0.3, 0.4, 0.3]
# Buck Island STX
bx_yr = [2001, 2002, 2003, 2004, 2005, 2006, 2007, 2008, 2009, 2010, 2011, 2012, 2013, 2014, 2015, 2016, 2018, 2019, 2021, 2022, 2023]
bx_sp = [0, 0, 1.3, 0.5, 1.4, 2.5, 0.3, 1.4, 1.5, 1.1, 1.8, 0.6, 0.9, 0.3, 0.5, 0.6, 0.4, 0.3, 0.2, 0.3, 0.3]
bx_rp = [0, 0, 0, 0, 0, 0.3, 0, 0, 0, 0.1, 0.2, 0, 0, 0, 0.2, 0.3, 0.3, 0.3, 0, 0.1, 0.1]
bx_en = [0, 0, 0.1, 0, 0.1, 0.2, 0, 0.1, 0.1, 0, 0, 0, 0.1, 0, 0, 0.1, 0.1, 0.1, 0, 0, 0]
bx_se = [0.02, 0.02, 0.5, 0.1, 0.4, 0.4, 0.2, 0.3, 0.3, 0.2, 0.2, 0.1, 0.1, 0.1, 0.1, 0.2, 0.3, 0.2, 0.1, 0.2, 0.2]
# St James
sj_yr = [2005, 2006, 2007, 2008, 2009, 2010, 2011, 2012, 2013, 2014, 2015, 2016, 2018, 2019, 2020, 2021, 2022, 2023]
sj_tb = [0.9, 0.2, 0, 0, 0, 0, 0, 0, 0, 0, 0, 0, 0, 0, 0, 0, 0, 0]
sj_sp = [1.0, 0.8, 2.5, 3.7, 6.0, 3.3, 2.5, 2.8, 2.6, 2.7, 2.1, 2.5, 2.5, 2.4, 1.4, 1.5, 1.6, 5.5]
sj_rp = [2.0, 1.6, 0.2, 0, 0, 0.3, 0.7, 0.6, 0.6, 1.6, 1.0, 1.0, 0.8, 0.9, 2.0, 2.3, 2.2, 0.2]
sj_en = [0.8, 0.6, 0.2, 0, 0, 0, 0.1, 0, 0, 0.1, 0, 0, 0, 0, 0, 0, 0, 0]
sj_bv = [0.8, 0.7, 0, 0, 0, 0, 0.1, 0.2, 0.2, 0.2, 0.1, 0.2, 0.3, 0.3, 0.2, 0.2, 0.2, 0]
sj_se = [0.9, 0.5, 0.6, 0.5, 1.7, 0.5, 0.5, 0.6, 0.6, 0.7, 0.3, 0.3, 0.6, 0.5, 0.6, 0.4, 0.3, 0.4]
# Kings Corner
kc_yr = [2007, 2008, 2009, 2010, 2011, 2012, 2013, 2014, 2015, 2016, 2018, 2019, 2021, 2022, 2023]
kc_tb = [0, 3.2, 0, 0, 0, 0, 0, 0, 0, 0.4, 0, 0.4, 0, 0.4, 0]
kc_sp = [8.0, 2.6, 10.3, 10.2, 13.3, 10.3, 11.3, 11.0, 9.6, 10.3, 8.0, 7.3, 6.9, 7.2, 6.6]
kc_rp = [0, 0, 0, 0, 0, 0.5, 0.6, 0.6, 0, 0, 0.6, 0.5, 0.8, 0.6, 0.2]
kc_en = [1.0, 0.8, 0.2, 0, 0, 0.6, 0.5, 0.5, 0.5, 0.3, 0.5, 0.5, 0.4, 0.3, 0]
kc_dl = [0.5, 0, 0, 0, 0, 0.3, 0.2, 0, 0, 0, 0.3, 0, 0, 0, 0]
kc_cl = [0, 0, 0, 0, 0, 0, 0, 0.6, 0.8, 0.8, 0.8, 0.8, 1.5, 1.5, 0.8]
kc_bv = [4.0, 3.9, 0.3, 0.3, 0.3, 1.0, 0.8, 1.0, 1.2, 0.8, 2.6, 0.7, 2.6, 1.3, 1.0]
kc_ba = [0.5, 0, 0, 0, 0, 0.8, 0.3, 0, 0, 0, 0, 0, 0, 0, 0]
kc_se = [0.8, 1.7, 1.2, 1.3, 1.5, 1.9, 2.0, 1.9, 1.5, 2.0, 2.3, 1.8, 2.6, 1.9, 1.5]
# VIIS-Tektite
vt_yr = [2005, 2006, 2007, 2008, 2009, 2010, 2011, 2012, 2013, 2014, 2015, 2016, 2017, 2018, 2019, 2020, 2021, 2022, 2023]
vt_sp = [2.0, 1.4, 1.5, 1.6, 1.9, 1.7, 1.5, 1.2, 1.2, 1.2, 1.2, 1.2, 0.6, 1.3, 1.2, 1.2, 1.2, 1.2, 1.2]
vt_rp = [0.5, 0.7, 0.6, 0.3, 0.8, 0.3, 0.3, 0.5, 0.6, 0.6, 0.6, 0.6, 0, 0.6, 0.6, 0.4, 0.5, 0.6, 0.4]
vt_en = [0.1, 0.1, 0.1, 0.1, 0.1, 0.1, 0.1, 0.2, 0.2, 0.9, 0.7, 0.8, 0.1, 0.4, 0.5, 0.3, 0.5, 0.5, 0.3]
vt_cl = [0, 0, 0, 0, 0, 0, 0, 0, 0, 0.3, 0.3, 0.2, 0, 0, 0, 0, 0, 0.2, 0]
vt_se = [0.2, 0.2, 0.2, 0.2, 0.3, 0.2, 0.2, 0.2, 0.2, 0.3, 0.3, 0.3, 0.1, 0.2, 0.2, 0.2, 0.2, 0.2, 0.2]
# Seahorse Cottage Shoal
sc_yr = [2003, 2004, 2005, 2006, 2007, 2008, 2009, 2010, 2011, 2012, 2013, 2014, 2015, 2016, 2017, 2018, 2019, 2020, 2021, 2022, 2023]
sc_tb = [0.6, 0.3, 0.3, 1.6, 0, 0, 0, 0, 0, 0, 0, 0, 1.4, 0, 0, 0, 0, 0, 0, 0, 0]
sc_sp = [0.3, 0.5, 0.2, 2.0, 2.4, 3.2, 5.0, 3.2, 3.2, 3.5, 4.5, 1.5, 0.5, 2.3, 2.0, 1.4, 1.4, 1.4, 1.6, 1.4, 2.8]
sc_rp = [0.5, 0.4, 0.5, 0, 0, 0, 0, 0, 0, 0, 0, 0.5, 0.8, 0.5, 0.3, 0.2, 0.5, 0.7, 0.8, 0.5, 0.5]
sc_en = [0.8, 0.8, 0.5, 0.2, 0, 0, 0, 0, 0, 0, 0, 0.4, 0.3, 0.4, 0, 0, 0.3, 0.4, 0.5, 0.2, 0.2]
sc_dl = [0, 0, 0.1, 0, 0, 0, 0, 0, 0, 0, 0, 0, 0.2, 0, 0, 0, 0, 0, 0, 0, 0]
sc_bv = [0.4, 0.5, 0.2, 0, 0, 0, 0, 0, 0, 0, 0, 0, 0.2, 0.1, 0, 0, 0, 0, 0, 0, 0]
sc_se = [0.4, 0.5, 0.4, 0.7, 0.3, 0.4, 0.9, 0.4, 0.4, 0.6, 0.8, 0.3, 0.2, 0.2, 0.1, 0.2, 0.3, 0.5, 0.5, 0.4, 0.5]
# South Water
wa_yr = [2005, 2006, 2007, 2008, 2009, 2010, 2011, 2012, 2013, 2014, 2015, 2016, 2018, 2019, 2020, 2021, 2022, 2023]
wa_tb = [0.7, 1.0, 0, 0, 0, 0, 0, 0, 0, 0, 0, 0, 0, 0.4, 0, 0, 0.4, 0]
wa_sp = [1.4, 0.2, 5.8, 7.6, 7.3, 5.5, 7.9, 5.2, 6.0, 5.1, 4.0, 7.9, 3.4, 3.5, 3.0, 3.8, 4.2, 6.4]
wa_rp = [0.4, 0.3, 0, 0, 0, 0, 0.2, 1.2, 0.8, 0.8, 0.5, 0.5, 0.6, 0.5, 0.9, 1.2, 1.3, 0.6]
wa_en = [5.3, 8.0, 0, 0, 0, 0, 0, 0, 0, 0, 0, 0.3, 0.3, 0.3, 0.3, 0, 0, 0]
wa_bv = [0.4, 2.2, 0, 0, 0, 0, 0, 0.3, 0.2, 0.2, 0.3, 0.3, 1.4, 0.7, 0.9, 0.8, 1.2, 0.8]
wa_ba = [0.4, 0.3, 0, 0, 0, 0, 0, 0, 0, 0, 0, 0, 0, 0, 0, 0, 0, 0]
wa_se = [1.0, 0.9, 0.6, 1.3, 1.2, 0.9, 0.8, 0.8, 0.6, 0.4, 0.4, 0.7, 0.3, 0.6, 0.8, 0.6, 1.1, 1.0]
# South Capella
cp_yr = [2003, 2004, 2005, 2006, 2007, 2008, 2009, 2010, 2011, 2012, 2013, 2014, 2015, 2016, 2018, 2019, 2020, 2021, 2022, 2023]
cp_tb = [0.2, 0, 2.5, 1.8, 0, 0, 0, 0, 0, 0, 0, 0, 0, 0, 0, 0, 0, 0, 0, 0]
cp_sp = [1.8, 0.4, 0.1, 0.2, 4.0, 6.7, 3.7, 6.9, 4.0, 6.2, 4.3, 4.6, 3.8, 4.3, 3.8, 3.3, 2.8, 3.3, 4.0, 3.2]
cp_rp = [0, 0, 0.1, 0, 0, 0, 0, 0, 0, 0, 0, 0.4, 0.3, 0.4, 0.4, 0.3, 0.6, 0.7, 0.6, 0.3]
cp_en = [0.3, 4.0, 2.0, 2.2, 0, 0, 0, 0, 0, 0, 0, 0.2, 0, 0, 0.1, 0, 0.3, 0.2, 0.4, 0.2]
cp_bv = [0, 0.5, 0.5, 0.3, 0, 0, 0, 0, 0, 0.4, 0, 0.3, 0, 0.2, 0, 0, 0.1, 0, 0, 0]
cp_ba = [0, 0, 0.2, 0.3, 0, 0, 0, 0, 0, 0, 0, 0, 0, 0, 0, 0, 0, 0, 0, 0]
cp_se = [0.4, 0.8, 0.9, 0.8, 0.4, 1.0, 0.6, 1.7, 0.8, 1.8, 1.2, 1.5, 0.6, 0.7, 0.8, 0.3, 0.9, 0.8, 1.1, 0.9]
# Mutton Snapper FSA
ms_yr = [2003, 2004, 2005, 2006, 2007, 2008, 2009, 2010, 2011, 2012, 2013, 2014, 2015, 2016, 2018, 2019, 2021, 2022, 2023]
ms_tb = [0, 0.3, 0, 0, 0, 0.7, 0, 0, 0, 0, 0, 0, 0, 0, 0, 0, 0, 0, 0]
ms_sp = [0.2, 0.6, 2.8, 0.5, 0.2, 0.3, 1.2, 4.3, 2.2, 1.7, 1.7, 2.1, 1.6, 1.5, 1.4, 2.1, 2.6, 2.0, 3.0]
ms_en = [0.1, 1.7, 0, 0, 1.5, 1.6, 1.6, 0, 0.8, 1.3, 1.2, 0.8, 0.4, 0.2, 0.2, 0.2, 0.2, 0.4, 0.4]
ms_dl = [0, 0, 0.4, 3.1, 0.6, 0.5, 0, 0, 0, 0, 0, 0, 0.3, 0.2, 0.1, 0, 0, 0, 0]
ms_cl = [0, 0, 0, 0, 0, 0, 0, 0, 0, 0, 0.1, 0.2, 1.0, 1.4, 1.9, 0.4, 0.5, 0.6, 0.2]
ms_bv = [0, 0, 0, 0.6, 0.3, 0.3, 0, 0, 0, 0, 0, 0, 0, 0, 0.2, 0.2, 0.5, 0.4, 0.3]
ms_se = [0.1, 1.7, 1.5, 1.9, 1.5, 1.4, 0.9, 0.5, 0.7, 0.7, 0.8, 0.9, 0.7, 0.4, 1.0, 0.3, 1.1, 0.5, 0.8]
# Lang Bank EEMP
le_yr = [2009, 2010, 2011, 2012, 2013, 2014, 2015, 2016, 2018, 2019, 2021, 2022, 2023]
le_sp = [3.8, 6.9, 4.4, 6.2, 6.0, 5.8, 5.6, 5.6, 3.3, 3.4, 2.7, 3.4, 5.0]
le_rp = [0, 0, 0, 0.2, 0.2, 0.3, 0.2, 0.2, 0.2, 0.2, 0.5, 0.3, 0.2]
le_en = [0, 0, 0, 0.4, 0.3, 0.3, 0.2, 0.2, 0.2, 0.3, 0.3, 0.3, 0.2]
le_cl = [0, 0, 0, 0, 0, 0.2, 0.2, 0.1, 0.2, 0.3, 0.5, 0.5, 0.3]
le_bv = [0, 0, 0, 0, 0, 0, 0, 0, 0.1, 0.2, 0.5, 0.4, 0.2]
le_ba = [0, 0, 0, 0, 0, 0, 0, 0, 0, 0, 0.2, 0, 0]
le_se = [1.4, 1.3, 1.0, 1.3, 1.1, 0.8, 0.5, 0.8, 0.6, 0.6, 0.8, 0.3, 0.8]
# College Shoal East
ce_yr = [2003, 2005, 2006, 2007, 2008, 2009, 2010, 2011, 2012, 2013, 2014, 2015, 2016, 2018, 2019, 2020, 2021, 2022, 2023]
ce_sp = [0.2, 0.1, 0.8, 0, 0.2, 0.2, 3.1, 0.4, 0.6, 0.8, 0.6, 1.8, 0.6, 0.6, 0.4, 0.4, 0.3, 0.2, 0.3]
ce_en = [0.8, 4.0, 0.3, 0, 0, 0, 0, 0, 0.2, 0.3, 0.2, 0.2, 0.2, 0.4, 0.1, 0.4, 0.2, 0.2, 0.2]
ce_dl = [0, 0, 0, 0, 0, 0, 0, 0, 0, 0, 0, 0, 0, 0.3, 0, 0, 0, 0, 0]
ce_se = [0.3, 1.2, 0.2, 0.05, 0.1, 0.1, 0.7, 0.1, 0.3, 0.4, 0.2, 0.4, 0.1, 0.3, 0.1, 0.5, 0.1, 0.1, 0.2]
# Meri Shoal
mr_yr = [2005, 2006, 2007, 2008, 2009, 2010, 2011, 2012, 2013, 2014, 2015, 2016, 2018, 2019, 2020, 2021, 2022, 2023]
mr_sp = [0.1, 0.2, 0.1, 0.3, 0.5, 0.3, 0.3, 0.8, 1.0, 0.7, 1.1, 1.0, 1.8, 1.2, 1.0, 1.3, 1.2, 0.8]
mr_en = [0.3, 0.5, 0, 0, 0.1, 0, 0, 0.1, 0.1, 0.1, 0.2, 0.2, 0.3, 0.2, 0.2, 0.2, 0.2, 0.2]
mr_dl = [0.2, 0, 0, 0, 0, 0, 0, 0, 0, 0, 0, 0, 0, 0, 0, 0, 0, 0]
mr_cl = [0.1, 0.1, 0, 0, 0, 0, 0, 0, 0, 0, 0, 0, 0, 0, 0, 0, 0, 0]
mr_bv = [0.3, 0.2, 0, 0, 0, 0, 0, 0, 0, 0, 0, 0, 0, 0, 0, 0, 0, 0]
mr_se = [0.3, 0.3, 0.05, 0.1, 0.1, 0.1, 0.1, 0.3, 0.3, 0.3, 0.4, 0.4, 0.6, 0.3, 0.6, 0.6, 0.5, 0.4]
# Salt River Deep
sd_yr = [2009, 2010, 2011, 2012, 2013, 2014, 2015, 2016, 2018, 2019, 2021, 2022, 2023]
sd_tb = [0, 0, 0, 0.6, 0.6, 0.9, 0, 0, 0, 0.5, 0, 0, 0]
sd_sp = [13.5, 9.5, 7.6, 6.6, 6.2, 5.4, 6.8, 7.2, 6.8, 5.9, 4.4, 5.9, 4.3]
sd_rp = [0, 0.2, 0.4, 0.9, 1.2, 1.3, 1.2, 1.2, 0.8, 1.6, 1.8, 1.7, 1.6]
sd_en = [0, 0, 0, 0.1, 0, 0, 0.1, 0, 0.1, 0, 0, 0, 0]
sd_se = [3.2, 1.4, 1.7, 1.1, 1.3, 1.5, 1.4, 1.1, 1.6, 1.1, 1.5, 0.7, 1.3]
# Buck Island STX Deep
bd_yr = [2017, 2018, 2019, 2021, 2022, 2023]
bd_sp = [4.2, 3.9, 3.5, 3.2, 3.3, 3.4]
bd_rp = [0.2, 0.2, 0.2, 0.2, 0.1, 0.1]
bd_en = [0.2, 0.2, 0.2, 0.2, 0.1, 0.1]
bd_cl = [0.3, 0.4, 0.5, 0.3, 0.1, 0.1]
bd_bv = [0.1, 0.3, 0.5, 0.4, 0.3, 0.2]
bd_se = [0.7, 1.1, 1.0, 0.6, 0.3, 0.6]
# Lang Bank Red Hind FSA
lr_yr = [2001, 2002, 2004, 2005, 2006, 2009, 2010, 2011, 2012, 2013, 2014, 2015, 2016, 2018, 2019, 2021, 2022, 2023]
lr_tb = [0.2, 0, 0, 1.2, 1.8, 0, 0, 0, 0, 0, 0, 0, 0, 0, 0, 0, 0, 0]
lr_sp = [1.1, 2.4, 2.2, 0.6, 0.5, 4.5, 4.3, 2.6, 5.6, 5.6, 5.4, 4.4, 6.1, 4.6, 4.6, 2.3, 4.4, 4.1]
lr_rp = [0.5, 0, 0, 0.5, 0.5, 0.1, 0, 0, 0.7, 0.3, 0.6, 0.4, 0.6, 0.4, 0.3, 0.5, 0.3, 0.3]
lr_en = [1.3, 0.6, 6.0, 0.3, 0.6, 0, 0, 0, 0.3, 0.2, 0.4, 0.2, 0.4, 0.2, 0.2, 0.3, 0.3, 0.1]
lr_dl = [0, 0, 0, 0, 0.3, 0, 0, 0, 0, 0, 0, 0, 0, 0.2, 0, 0, 0, 0]
lr_cl = [0, 0, 0, 0, 0, 0, 0, 0, 0, 0, 0, 0, 0, 0, 0, 0.1, 0.4, 0.1]
lr_bv = [0.6, 0.5, 0.2, 0, 0.5, 0.1, 0, 0, 0.4, 0.3, 0.4, 0.2, 0.4, 0.3, 0.3, 0.4, 0.6, 0.2]
lr_ba = [0, 0, 0.2, 0.2, 0.5, 0, 0, 0, 0, 0, 0, 0, 0, 0, 0, 0, 0, 0]
lr_se = [1.1, 1.0, 1.1, 0.2, 0.4, 0.5, 0.3, 0.4, 1.3, 0.8, 1.3, 0.9, 1.5, 0.9, 0.8, 0.8, 0.7, 0.3]
# Cane Bay Deep
cd_yr = [2009, 2010, 2011, 2012, 2013, 2014, 2015, 2016, 2018, 2019, 2021, 2022, 2023]
cd_sp = [4.5, 4.5, 7.8, 5.4, 4.2, 5.0, 6.0, 9.0, 10.5, 7.8, 7.6, 7.6, 9.2]
cd_rp = [0, 0, 0, 0.3, 1.1, 0.5, 0.3, 0.2, 0.3, 0.3, 0.3, 0.2, 0.3]
cd_en = [0, 0, 0.2, 0.3, 0.5, 0.3, 0.2, 0.3, 0.4, 0.3, 0.3, 0.2, 0.3]
cd_bv = [0, 0, 0, 0.2, 0.5, 0.1, 0, 0.2, 0.8, 0.2, 0.4, 0.3, 0.8]
cd_se = [0.6, 0.5, 0.8, 0.9, 0.7, 0.5, 0.4, 0.9, 1.6, 1.1, 1.4, 0.7, 2.1]
# Grammanik Tiger FSA
gt_yr = [2003, 2004, 2005, 2006, 2007, 2008, 2009, 2010, 2011, 2012, 2013, 2014, 2015, 2016, 2018, 2019, 2020, 2021, 2022, 2023]
gt_tb = [0.3, 0.2, 0, 1.1, 0, 0.5, 0, 0, 0, 0, 0, 0, 0, 0, 0, 0, 0, 0, 0, 0]
gt_sp = [2.9, 1.6, 0.2, 0.3, 1.5, 1.0, 3.6, 7.8, 3.5, 1.4, 1.6, 1.3, 2.0, 2.1, 2.4, 2.2, 1.7, 1.5, 1.3, 0.9]
gt_en = [1.8, 2.6, 10.0, 6.6, 0.4, 0.3, 0, 0, 0, 0.2, 0.4, 0.1, 0, 0.1, 0.3, 0.2, 0.1, 0, 0, 0]
gt_bv = [0.2, 0.2, 0.4, 0, 0, 0, 0, 0, 0, 0, 0, 0, 0, 0, 0, 0, 0, 0, 0, 0]
gt_se = [0.8, 0.4, 1.4, 0.8, 0.3, 0.4, 1.3, 0.5, 0.4, 0.5, 0.4, 0.3, 0.2, 0.3, 0.6, 0.3, 0.5, 0.4, 0.3, 0.2]
# Hind Bank East FSA
hb_yr = [2003, 2004, 2005, 2006, 2007, 2008, 2009, 2010, 2011, 2012, 2013, 2014, 2015, 2016, 2018, 2019, 2020, 2021, 2022, 2023]
hb_tb = [0.4, 0.2, 0.2, 1.0, 0, 0, 0, 0, 0, 0, 0, 0, 0, 0, 0, 0, 0, 0, 0, 0]
hb_sp = [0.4, 0.6, 0.2, 1.6, 4.3, 2.8, 3.3, 2.7, 3.4, 4.3, 3.1, 2.9, 4.5, 4.2, 3.7, 3.8, 3.6, 3.6, 3.5, 3.6]
hb_rp = [0.3, 0.3, 0.2, 0, 0, 0, 0, 0, 0, 0, 0, 0, 0.2, 0.2, 0, 0, 0, 0.1, 0.1, 0.2]
hb_en = [1.6, 3.5, 11.5, 0.4, 0, 0, 0.2, 0, 0.2, 0.2, 0.1, 0, 0.2, 0.2, 0.2, 0.2, 0.2, 0.2, 0.2, 0.2]
hb_dl = [0, 0.3, 0, 0, 0.3, 0, 0, 0, 0, 0, 0, 0, 0, 0, 0, 0, 0, 0, 0, 0]
hb_bv = [0, 0.7, 0, 0, 0, 0.2, 0, 0, 0, 0, 0, 0, 0, 0, 0, 0, 0, 0, 0, 0.3]
hb_se = [0.6, 0.9, 1.2, 1.2, 1.0, 0.9, 1.1, 1.2, 1.3, 1.5, 1.0, 1.2, 1.5, 1.6, 1.4, 1.7, 1.7, 0.8, 0.9, 0.7]
# Ginsburg Fringe
gf_yr = [2011, 2013, 2014, 2015, 2017, 2018, 2020, 2021, 2022, 2023]
gf_sp = [6.3, 2.4, 1.2, 3.2, 2.5, 2.7, 2.6, 1.6, 2.6, 1.3]
gf_en = [0, 0.2, 0.2, 0.5, 0.3, 0.7, 0.6, 0.1, 0.6, 0.2]
gf_bv = [0, 0, 0, 0.2, 0, 0.1, 0, 0, 0, 0]
gf_se = [2.4, 1.1, 0.4, 1.3, 0.3, 1.1, 0.5, 0.3, 0.6, 0.5]

sites = [
    ("Great Pond", gp_yr, dict(sp=gp_sp, en=gp_en), gp_se),
    ("Brewers Bay", bb_yr, dict(tb=bb_tb, sp=bb_sp, rp=bb_rp, en=bb_en), bb_se),
    ("Fish Bay", fb_yr, dict(sp=fb_sp, rp=fb_rp, en=fb_en), fb_se),
    ("Castle", ca_yr, dict(sp=ca_sp, en=ca_en), ca_se),
    ("Coculus Rock", cr_yr, dict(tb=cr_tb, sp=cr_sp, rp=cr_rp, en=cr_en, bv=cr_bv, ba=cr_ba), cr_se),
    ("Magens Bay", mb_yr, dict(tb=mb_tb, sp=mb_sp, rp=mb_rp, en=mb_en, bv=mb_bv), mb_se),
    ("VIIS-Newfound", vn_yr, dict(sp=vn_sp, rp=vn_rp, en=vn_en), vn_se),
    ("Botany Bay", bt_yr, dict(sp=bt_sp, rp=bt_rp, en=bt_en), bt_se),
    ("Sprat Hole", sh_yr, dict(tb=sh_tb, sp=sh_sp, rp=sh_rp, en=sh_en, cl=sh_cl, bv=sh_bv, ba=sh_ba), sh_se),
    ("VIIS-Haulover", vh_yr, dict(sp=vh_sp, rp=vh_rp, en=vh_en), vh_se),
    ("Black Point", bp_yr, dict(tb=bp_tb, sp=bp_sp, rp=bp_rp, en=bp_en, bv=bp_bv), bp_se),
    ("Coral Bay", cy_yr, dict(tb=cy_tb, sp=cy_sp, rp=cy_rp, en=cy_en, cl=cy_cl), cy_se),
    ("Savana", sv_yr, dict(tb=sv_tb, sp=sv_sp, rp=sv_rp, en=sv_en, cl=sv_cl, bv=sv_bv), sv_se),
    ("BUIS-Western Spur and Groove", ws_yr, dict(sp=ws_sp, rp=ws_rp, en=ws_en, dl=ws_dl, cl=ws_cl), ws_se),
    ("Cane Bay", cn_yr, dict(sp=cn_sp, rp=cn_rp, en=cn_en, dl=cn_dl, cl=cn_cl, bv=cn_bv), cn_se),
    ("Eagle Ray", er_yr, dict(tb=er_tb, sp=er_sp, rp=er_rp, en=er_en, dl=er_dl, cl=er_cl, bo=er_bo, bv=er_bv), er_se),
    ("Salt River West", sw_yr, dict(tb=sw_tb, sp=sw_sp, rp=sw_rp, en=sw_en, cl=sw_cl, bo=sw_bo, bv=sw_bv, ba=sw_ba), sw_se),
    ("VIIS-Yawzi", vy_yr, dict(sp=vy_sp, rp=vy_rp, en=vy_en), vy_se),
    ("Flat Cay", fc_yr, dict(tb=fc_tb, sp=fc_sp, rp=fc_rp, en=fc_en, dl=fc_dl, bv=fc_bv), fc_se),
    ("BUIS-South Fore Reef", sf_yr, dict(sp=sf_sp, rp=sf_rp, en=sf_en), sf_se),
    ("VIIS-Mennebeck", vm_yr, dict(sp=vm_sp, rp=vm_rp, en=vm_en), vm_se),
    ("Buck Island STT", bs_yr, dict(tb=bs_tb, sp=bs_sp, rp=bs_rp, en=bs_en, bv=bs_bv, ba=bs_ba), bs_se),
    ("Jacks Bay", jb_yr, dict(sp=jb_sp, rp=jb_rp, en=jb_en, dl=jb_dl, cl=jb_cl, bv=jb_bv, ba=jb_ba), jb_se),
    ("Buck Island STX", bx_yr, dict(sp=bx_sp, rp=bx_rp, en=bx_en), bx_se),
    ("St James", sj_yr, dict(tb=sj_tb, sp=sj_sp, rp=sj_rp, en=sj_en, bv=sj_bv), sj_se),
    ("Kings Corner", kc_yr, dict(tb=kc_tb, sp=kc_sp, rp=kc_rp, en=kc_en, dl=kc_dl, cl=kc_cl, bv=kc_bv, ba=kc_ba), kc_se),
    ("VIIS-Tektite", vt_yr, dict(sp=vt_sp, rp=vt_rp, en=vt_en, cl=vt_cl), vt_se),
    ("Seahorse Cottage Shoal", sc_yr, dict(tb=sc_tb, sp=sc_sp, rp=sc_rp, en=sc_en, dl=sc_dl, bv=sc_bv), sc_se),
    ("South Water", wa_yr, dict(tb=wa_tb, sp=wa_sp, rp=wa_rp, en=wa_en, bv=wa_bv, ba=wa_ba), wa_se),
    ("South Capella", cp_yr, dict(tb=cp_tb, sp=cp_sp, rp=cp_rp, en=cp_en, bv=cp_bv, ba=cp_ba), cp_se),
    ("Mutton Snapper FSA", ms_yr, dict(tb=ms_tb, sp=ms_sp, en=ms_en, dl=ms_dl, cl=ms_cl, bv=ms_bv), ms_se),
    ("Lang Bank EEMP", le_yr, dict(sp=le_sp, rp=le_rp, en=le_en, cl=le_cl, bv=le_bv, ba=le_ba), le_se),
    ("College Shoal East", ce_yr, dict(sp=ce_sp, en=ce_en, dl=ce_dl), ce_se),
    ("Meri Shoal", mr_yr, dict(sp=mr_sp, en=mr_en, dl=mr_dl, cl=mr_cl, bv=mr_bv), mr_se),
    ("Salt River Deep", sd_yr, dict(tb=sd_tb, sp=sd_sp, rp=sd_rp, en=sd_en), sd_se),
    ("Buck Island STX Deep", bd_yr, dict(sp=bd_sp, rp=bd_rp, en=bd_en, cl=bd_cl, bv=bd_bv), bd_se),
    ("Lang Bank Red Hind FSA", lr_yr, dict(tb=lr_tb, sp=lr_sp, rp=lr_rp, en=lr_en, dl=lr_dl, cl=lr_cl, bv=lr_bv, ba=lr_ba), lr_se),
    ("Cane Bay Deep", cd_yr, dict(sp=cd_sp, rp=cd_rp, en=cd_en, bv=cd_bv), cd_se),
    ("Grammanik Tiger FSA", gt_yr, dict(tb=gt_tb, sp=gt_sp, en=gt_en, bv=gt_bv), gt_se),
    ("Hind Bank East FSA", hb_yr, dict(tb=hb_tb, sp=hb_sp, rp=hb_rp, en=hb_en, dl=hb_dl, bv=hb_bv), hb_se),
    ("Ginsburg Fringe", gf_yr, dict(sp=gf_sp, en=gf_en, bv=gf_bv), gf_se),
]

REF_YEAR = 2005
legend_cols = [["Ball sponge", "Barrel/Vase sponge"], ["Boring sponge", "Cliona spp."],
               ["Clionia delitrix", "Encrusting sponge"], ["Rope sponge", "Sponge"], ["Tube sponge"]]

# ---------------- figure ----------------
fig = go.Figure()
shapes, annots = [], []
layout = dict(width=W, height=H, margin=dict(l=0, r=0, t=0, b=0), showlegend=False,
              paper_bgcolor="white", plot_bgcolor="white",
              font=dict(family=FONT, size=11, color="#4D4D4D"))

for i, (name, yr, layers, se) in enumerate(sites):
    for k, v in layers.items():
        if len(v) != len(yr):
            raise ValueError(f"{name} {k}: {len(v)} vs {len(yr)}")
    if len(se) != len(yr):
        raise ValueError(f"{name} se")
    r, c = divmod(i, 7)
    n = i + 1
    xa = "x" if n == 1 else f"x{n}"
    ya = "y" if n == 1 else f"y{n}"

    # panel box in page pixels
    px0 = 45 + 191 * c
    px1 = px0 + 183
    ptop = 30 + 190 * r
    pbot = 172 + 190 * r

    for key, morph in stack:
        if key not in layers:
            continue
        col = colors[morph]
        fig.add_trace(go.Scatter(x=yr, y=layers[key], xaxis=xa, yaxis=ya, stackgroup=f"g{n}",
                                 mode="lines", line=dict(width=0.5, color=col), fillcolor=col,
                                 hoverinfo="skip", name=morph))
    tot = [round(sum(layers[k][j] for k in layers), 2) for j in range(len(yr))]
    fig.add_trace(go.Scatter(x=yr, y=tot, xaxis=xa, yaxis=ya, mode="markers",
                             marker=dict(color="black", size=4.5),
                             error_y=dict(type="data", array=se, color="black", thickness=1.5, width=0),
                             hoverinfo="skip"))

    lo = min(REF_YEAR, yr[0])
    hi = yr[-1]
    pad = 0.05 * (hi - lo)
    tv = list(range(lo, hi + 1))
    tt = ["'%02d" % (t % 100) if t % 5 == 0 else "" for t in tv]
    layout["xaxis" if n == 1 else f"xaxis{n}"] = dict(
        domain=[fx(px0), fx(px1)], anchor=ya, range=[lo - pad, hi + pad],
        tickmode="array", tickvals=tv, ticktext=tt, ticks="outside", ticklen=3, tickwidth=1,
        tickcolor="#333333", showgrid=False, zeroline=False, showline=True, mirror=True,
        linecolor="#333333", linewidth=1, tickfont=dict(size=11, color="#4D4D4D"), fixedrange=True)
    layout["yaxis" if n == 1 else f"yaxis{n}"] = dict(
        domain=[fy(pbot), fy(ptop)], anchor=xa, range=[0, 16.95],
        tickmode="array", tickvals=[0, 4, 8, 12, 16], showticklabels=(c == 0),
        ticks="outside" if c == 0 else "", ticklen=3, tickwidth=1, tickcolor="#333333",
        showgrid=False, zeroline=False, showline=True, mirror=True,
        linecolor="#333333", linewidth=1, tickfont=dict(size=11, color="#4D4D4D"), fixedrange=True)

    # dashed reference year
    shapes.append(dict(type="line", xref=xa, yref=f"{ya} domain", x0=REF_YEAR, x1=REF_YEAR, y0=0, y1=1,
                       line=dict(color="#AAAAAA", width=1, dash="dash"), layer="below"))
    # strip
    stop = max(7 + 190 * r, OFF)
    shapes.append(dict(type="rect", xref="paper", yref="paper", x0=fx(px0), x1=fx(px1),
                       y0=fy(ptop), y1=fy(stop), fillcolor="#D9D9D9",
                       line=dict(color="#333333", width=1)))
    annots.append(dict(text=name, xref="paper", yref="paper", x=fx((px0 + px1) / 2),
                       y=fy((7 + 190 * r + ptop) / 2), showarrow=False, width=182,
                       xanchor="center", yanchor="middle", align="center",
                       font=dict(size=13, color="#1A1A1A")))

# axis titles
annots.append(dict(text="percent cover", xref="paper", yref="paper", x=fx(17), y=fy(576),
                   xanchor="center", yanchor="middle", textangle=-90, showarrow=False,
                   font=dict(size=13, color="#000000")))
annots.append(dict(text="year", xref="paper", yref="paper", x=fx(709.5), y=fy(1150),
                   xanchor="center", yanchor="middle", showarrow=False,
                   font=dict(size=13, color="#000000")))

# legend
annots.append(dict(text="spongeMorphs", xref="paper", yref="paper", x=fx(360), y=fy(1206),
                   xanchor="left", yanchor="middle", showarrow=False,
                   font=dict(size=13, color="#000000")))
col_x = [466, 607, 720, 855, 962]
row_y = [1190, 1221]
for cx, items in zip(col_x, legend_cols):
    for ry, morph in zip(row_y, items):
        shapes.append(dict(type="rect", xref="paper", yref="paper", x0=fx(cx), x1=fx(cx + 20),
                           y0=fy(ry + 10), y1=fy(ry - 10),
                           fillcolor=colors[morph], line=dict(width=0)))
        annots.append(dict(text=morph, xref="paper", yref="paper", x=fx(cx + 28), y=fy(ry),
                           xanchor="left", yanchor="middle", showarrow=False,
                           font=dict(size=11, color="#000000")))

layout["shapes"] = shapes
layout["annotations"] = annots
fig.update_layout(**layout)
fig.write_html("out.html")
